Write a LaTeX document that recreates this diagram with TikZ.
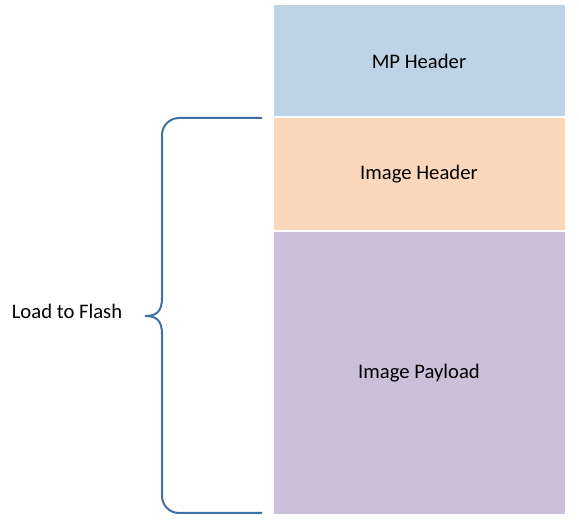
\documentclass[tikz,border=0pt]{standalone}
\usepackage{fontspec}
\setmainfont{Carlito}
\usetikzlibrary{positioning}
\definecolor{mpblue}{RGB}{190,211,230}
\definecolor{hdrorange}{RGB}{251,216,188}
\definecolor{paypurple}{RGB}{203,192,217}
\definecolor{braceblue}{RGB}{64,112,166}

\begin{document}
\begin{tikzpicture}[x=0.75pt, y=-0.75pt, font=\fontsize{15.5}{18}\selectfont,
		blk/.style={draw=white, line width=0.75pt, minimum width=219pt, inner sep=0pt},
		br/.style={draw=braceblue, line width=1.5pt}]
		\useasboundingbox (0,0) rectangle (579,527);

		\node[blk, fill=mpblue, minimum height=84pt] (mp) at (419,61) {MP Header};
		\node[blk, fill=hdrorange, minimum height=84.75pt, below=0pt of mp] (hdr) {Image Header};
		\node[blk, fill=paypurple, minimum height=212.25pt, below=0pt of hdr] (pay) {Image Payload};

		\node (load) at (67,311) {Load to Flash};

		% brace
		\coordinate (tl) at (262,118);
		\coordinate (bl) at (262,513);
		\coordinate (tip) at (145,316);
		\draw[br, rounded corners=12.75pt] (tl) -- (162,118) -- (162,300);
		\draw[br] (162,298) .. controls (162,312) and (156,316) .. (tip);
		\draw[br] (tip) .. controls (156,316) and (162,320) .. (162,334);
		\draw[br, rounded corners=12.75pt] (162,332) -- (162,513) -- (bl);
	\end{tikzpicture}
\end{document}
